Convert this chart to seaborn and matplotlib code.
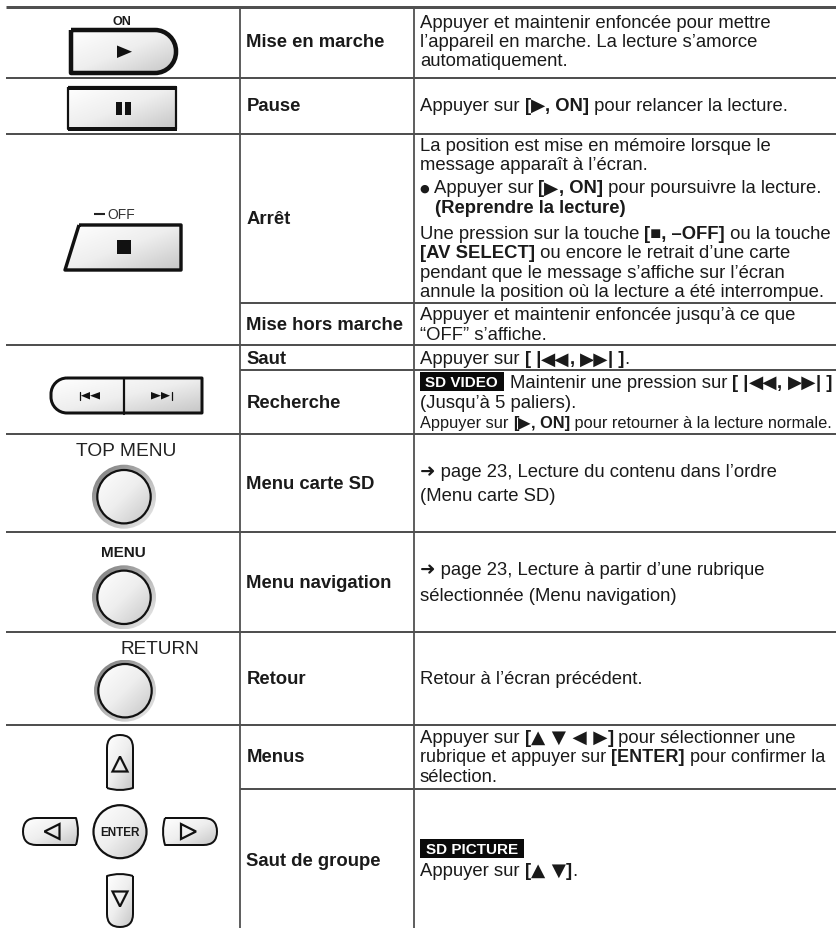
import numpy as np
import matplotlib
matplotlib.use('Agg')
import matplotlib.pyplot as plt
from matplotlib.path import Path
from matplotlib.patches import PathPatch, Circle, Polygon, Rectangle
import seaborn as sns

# table content
ROW_LABELS = ['Mise en marche', 'Pause', 'Arrêt', 'Mise hors marche', 'Saut', 'Recherche',
              'Menu carte SD', 'Menu navigation', 'Retour', 'Menus', 'Saut de groupe']
BUTTON_CAPTIONS = ['ON', 'OFF', 'TOP MENU', 'MENU', 'RETURN', 'ENTER']
BADGES = ['SD VIDEO', 'SD PICTURE']

R = 'r'
B = 'b'
G = 'g'
DESCRIPTIONS = [
    [('Appuyer et maintenir enfoncée pour mettre', R)],
    [('l’appareil en marche. La lecture s’amorce', R)],
    [('automatiquement.', R)],
    [('Appuyer sur ', R), ('[', B), ('▶', G), (', ON]', B), (' pour relancer la lecture.', R)],
    [('La position est mise en mémoire lorsque le', R)],
    [('message apparaît à l’écran.', R)],
    [('● ', G), ('Appuyer sur ', R), ('[', B), ('▶', G), (', ON]', B), (' pour poursuivre la lecture.', R)],
    [('(Reprendre la lecture)', B)],
    [('Une pression sur la touche ', R), ('[■, –OFF]', B), (' ou la touche', R)],
    [('[AV SELECT]', B), (' ou encore le retrait d’une carte', R)],
    [('pendant que le message s’affiche sur l’écran', R)],
    [('annule la position où la lecture a été interrompue.', R)],
    [('Appuyer et maintenir enfoncée jusqu’à ce que', R)],
    [('“OFF” s’affiche.', R)],
    [('Appuyer sur ', R), ('[ |', B), ('◀◀', G), (', ', B), ('▶▶', G), ('| ]', B), ('.', R)],
    [('Maintenir une pression sur ', R), ('[ |', B), ('◀◀', G), (', ', B), ('▶▶', G), ('| ]', B)],
    [('(Jusqu’à 5 paliers).', R)],
    [('Appuyer sur ', R), ('[', B), ('▶', G), (', ON]', B), (' pour retourner à la lecture normale.', R)],
    [('➜ page 23, Lecture du contenu dans l’ordre', R)],
    [('(Menu carte SD)', R)],
    [('➜ page 23, Lecture à partir d’une rubrique', R)],
    [('sélectionnée (Menu navigation)', R)],
    [('Retour à l’écran précédent.', R)],
    [('Appuyer sur ', R), ('[', B), ('▲ ▼ ◀ ▶', G), (']', B), (' pour sélectionner une', R)],
    [('rubrique et appuyer sur ', R), ('[ENTER]', B), (' pour confirmer la', R)],
    [('sélection.', R)],
    [('Appuyer sur ', R), ('[', B), ('▲ ▼', G), (']', B), ('.', R)],
]

# layout, in pixels of the page
W, H = 836, 929
LABEL_Y = [41, 105, 218, 324, 358, 402, 483, 582, 678, 756, 860]
DESC_Y = [21.7, 40.7, 60, 105, 145, 164, 187.3, 207.3, 232.7, 252, 271.7, 291, 314, 334, 358.3,
          381.7, 402.3, 422.3, 471, 495, 569.3, 595, 678.3, 736.7, 756, 776, 870]
DESC_X = {7: 435, 15: 510}
DESC_SCALE = {17: 0.885, 24: 0.975}
RULES_FULL = [79, 135, 346, 434.7, 533, 632.7, 726]
RULES_PARTIAL = [304.3, 370.7, 790]
COL_X = [240, 414]
LEFT = 6

FONT = ['Liberation Sans', 'DejaVu Sans']
FS = 13.3
INK = '#1a1a1a'
RULE = '#505050'
KAPPA = 0.55
RUN_STYLES = {R: ('normal', FONT), B: ('bold', FONT), G: ('bold', ['DejaVu Sans'])}

sns.set_theme(style='white')
plt.rcParams['font.family'] = FONT

fill_cmap = sns.blend_palette(['#ffffff', '#eeeeee', '#c6c6c6'], as_cmap=True)
ring_cmap = sns.blend_palette(['#787878', '#b4b4b4', '#f0f0f0'], as_cmap=True)
grad = np.add.outer(np.linspace(0, 1, 64), np.linspace(0, 1, 64)) / 2

fig = plt.figure(figsize=(W / 100, H / 100), dpi=100)
ax = fig.add_axes([0, 0, 1, 1])
ax.set_axis_off()
renderer = fig.canvas.get_renderer()


def shaded(path, cmap=fill_cmap, lw=2.0, edge='#111111', zorder=2):
    """Fill a path with the diagonal grey gradient and stroke it"""
    ext = path.get_extents()
    im = ax.imshow(grad, cmap=cmap, extent=[ext.x0, ext.x1, ext.y1, ext.y0], aspect='auto',
                   zorder=zorder, interpolation='bilinear')
    patch = PathPatch(path, fc='none', ec=edge, lw=lw * 0.72, zorder=zorder + 0.1, joinstyle='round')
    ax.add_patch(patch)
    im.set_clip_path(patch)


def rounded_box(x0, y0, x1, y1, left=0, right=0):
    k = 1 - KAPPA
    verts = [(x0 + left, y0), (x1 - right, y0)]
    codes = [Path.MOVETO, Path.LINETO]
    if right:
        verts += [(x1 - right * k, y0), (x1, y0 + right * k), (x1, y0 + right),
                  (x1, y1 - right),
                  (x1, y1 - right * k), (x1 - right * k, y1), (x1 - right, y1)]
        codes += [Path.CURVE4] * 3 + [Path.LINETO] + [Path.CURVE4] * 3
    else:
        verts += [(x1, y1)]
        codes += [Path.LINETO]
    verts += [(x0 + left, y1)]
    codes += [Path.LINETO]
    if left:
        verts += [(x0 + left * k, y1), (x0, y1 - left * k), (x0, y1 - left),
                  (x0, y0 + left),
                  (x0, y0 + left * k), (x0 + left * k, y0), (x0 + left, y0)]
        codes += [Path.CURVE4] * 3 + [Path.LINETO] + [Path.CURVE4] * 3
    else:
        verts += [(x0, y0)]
        codes += [Path.LINETO]
    return Path(verts, codes)


def caption(x, y, s, size, weight='normal', color=INK):
    ax.text(x, y, s, fontsize=size, fontweight=weight, ha='center', va='center', color=color,
            family=FONT, zorder=5)


def poly(points, color='#111111', fill=True, lw=0):
    ax.add_patch(Polygon(points, closed=True, fc=color if fill else 'none', ec=color,
                         lw=lw * 0.72, zorder=4, joinstyle='miter'))


def round_button(cx, cy, outer=32, inner=26.7):
    ring = Circle((cx, cy), outer)
    shaded(ring.get_path().transformed(ring.get_patch_transform()), cmap=ring_cmap, lw=0, edge='none')
    disc = Circle((cx, cy), inner)
    shaded(disc.get_path().transformed(disc.get_patch_transform()), lw=2.2, zorder=3)


def arm(cx, cy, ux, uy, half_len, half_wid):
    """One arrow key of the pad, the rounded end pointing along (ux, uy)"""
    vx, vy = -uy, ux
    def pt(u, v):
        return (cx + ux * u + vx * v, cy + uy * u + vy * v)
    r = half_wid
    verts = [pt(-half_len + 3, -half_wid), pt(half_len - r, -half_wid), pt(half_len, -half_wid),
             pt(half_len, 0), pt(half_len, half_wid), pt(half_len - r, half_wid),
             pt(-half_len + 3, half_wid), pt(-half_len - 1, 0), pt(-half_len + 3, -half_wid)]
    codes = [Path.MOVETO, Path.LINETO, Path.CURVE3, Path.CURVE3, Path.CURVE3, Path.CURVE3,
             Path.LINETO, Path.CURVE3, Path.CURVE3]
    shaded(Path(verts, codes), lw=2.0)
    poly([pt(6.5, 0), pt(-8.5, -7.5), pt(-8.5, 7.5)], fill=False, lw=2.2)


def run_width(s, size, style):
    """Advance width of a run, spaces included"""
    weight, family = RUN_STYLES[style]
    a = ax.text(0, 0, '.' + s + '.', fontsize=size, fontweight=weight, family=family)
    b = ax.text(0, 0, '..', fontsize=size, fontweight=weight, family=family)
    w = a.get_window_extent(renderer).width - b.get_window_extent(renderer).width
    a.remove()
    b.remove()
    return w


def text_line(x, y, runs, scale=1.0):
    size = FS * scale
    for s, style in runs:
        weight, family = RUN_STYLES[style]
        # the bullet is drawn smaller than the text around it
        run_size = size * 0.6 if s.startswith('●') else size
        ax.text(x, y + 6 - (2 if s.startswith('●') else 0), s, fontsize=run_size, fontweight=weight,
                ha='left', va='baseline', color=INK, family=family, zorder=5)
        x += run_width(s, run_size, style)


def badge(x0, x1, y0, y1, s):
    ax.add_patch(Rectangle((x0, y0), x1 - x0, y1 - y0, fc='#0a0a0a', ec='none', zorder=3))
    ax.text((x0 + x1) / 2, (y0 + y1) / 2 + 0.5, s, fontsize=11, fontweight='bold', color='white',
            ha='center', va='center', family=FONT, zorder=5)


# table rules
ax.plot([LEFT, W], [7.5, 7.5], color=RULE, lw=3 * 0.72, solid_capstyle='butt')
for y in RULES_FULL:
    ax.plot([LEFT, W], [y, y], color=RULE, lw=2 * 0.72, solid_capstyle='butt')
for y in RULES_PARTIAL:
    ax.plot([COL_X[0], W], [y, y], color=RULE, lw=2 * 0.72, solid_capstyle='butt')
for x in COL_X:
    ax.plot([x, x], [7.5, H], color=RULE, lw=1.8 * 0.72, solid_capstyle='butt')

# text columns
for label, y in zip(ROW_LABELS, LABEL_Y):
    ax.text(COL_X[0] + 6.5, y + 6, label, fontsize=FS, fontweight='bold', ha='left', va='baseline',
            color=INK, family=FONT, zorder=5)
for i, (runs, y) in enumerate(zip(DESCRIPTIONS, DESC_Y)):
    text_line(DESC_X.get(i, 420), y, runs, DESC_SCALE.get(i, 1.0))
badge(420, 503.7, 373, 391.7, BADGES[0])
badge(420, 523.8, 840, 858.7, BADGES[1])

# play button
caption(122, 21.7, BUTTON_CAPTIONS[0], 9, 'bold')
shaded(rounded_box(71, 31, 176, 74, right=21), lw=4.5)
poly([(117, 46.5), (132, 52.7), (117, 59)])

# pause button
shaded(rounded_box(68, 88, 176, 130), lw=2.2)
ax.add_patch(Rectangle((68, 86.5), 109, 4, fc='#111111', ec='none', zorder=3))
ax.add_patch(Rectangle((68, 127.5), 109, 4.5, fc='#111111', ec='none', zorder=3))
ax.add_patch(Rectangle((116, 103), 6, 13, fc='#111111', ec='none', zorder=4))
ax.add_patch(Rectangle((125, 103), 6, 13, fc='#111111', ec='none', zorder=4))

# stop button
shaded(Path([(79, 226), (181, 226), (181, 271), (65, 271), (79, 226)]), lw=3.4)
ax.add_patch(Rectangle((117, 241), 14, 14, fc='#111111', ec='none', zorder=4))
ax.plot([94, 105], [215, 215], color='#222222', lw=1.5, solid_capstyle='butt', zorder=5)
caption(121, 215, BUTTON_CAPTIONS[1], 10, color='#333333')

# skip buttons
shaded(rounded_box(51, 379, 202, 414, left=16), lw=3)
ax.plot([124, 124], [379, 415], color='#111111', lw=1.6, zorder=4)
poly([(81, 396.7), (90, 393), (90, 400.5)])
poly([(90, 396.7), (100, 393), (100, 400.5)])
ax.plot([79.5, 79.5], [392.5, 401], color='#111111', lw=0.9, zorder=4)
poly([(151, 393), (161, 396.7), (151, 400.5)])
poly([(161, 393), (170, 396.7), (161, 400.5)])
ax.plot([171.5, 171.5], [392.5, 401], color='#111111', lw=0.9, zorder=4)

# round buttons
caption(126, 451, BUTTON_CAPTIONS[2], 13.8, color='#222222')
round_button(124, 497.7)
caption(123.7, 553, BUTTON_CAPTIONS[3], 11, 'bold')
round_button(124, 598.3)
caption(160, 649, BUTTON_CAPTIONS[4], 13.7, color='#222222')
round_button(125, 691.7, outer=31)

# direction pad
arm(120, 764, 0, -1, 28, 13)
arm(120, 901, 0, 1, 27, 13)
arm(51, 832.5, -1, 0, 28, 13.5)
arm(189.5, 832.5, 1, 0, 27.5, 13.5)
disc = Circle((120, 832.7), 26.5)
shaded(disc.get_path().transformed(disc.get_patch_transform()), lw=2.2)
caption(120, 833, BUTTON_CAPTIONS[5], 8.5, 'bold')

ax.set_xlim(0, W)
ax.set_ylim(H, 0)
fig.savefig('out.png', dpi=100, facecolor='white')
